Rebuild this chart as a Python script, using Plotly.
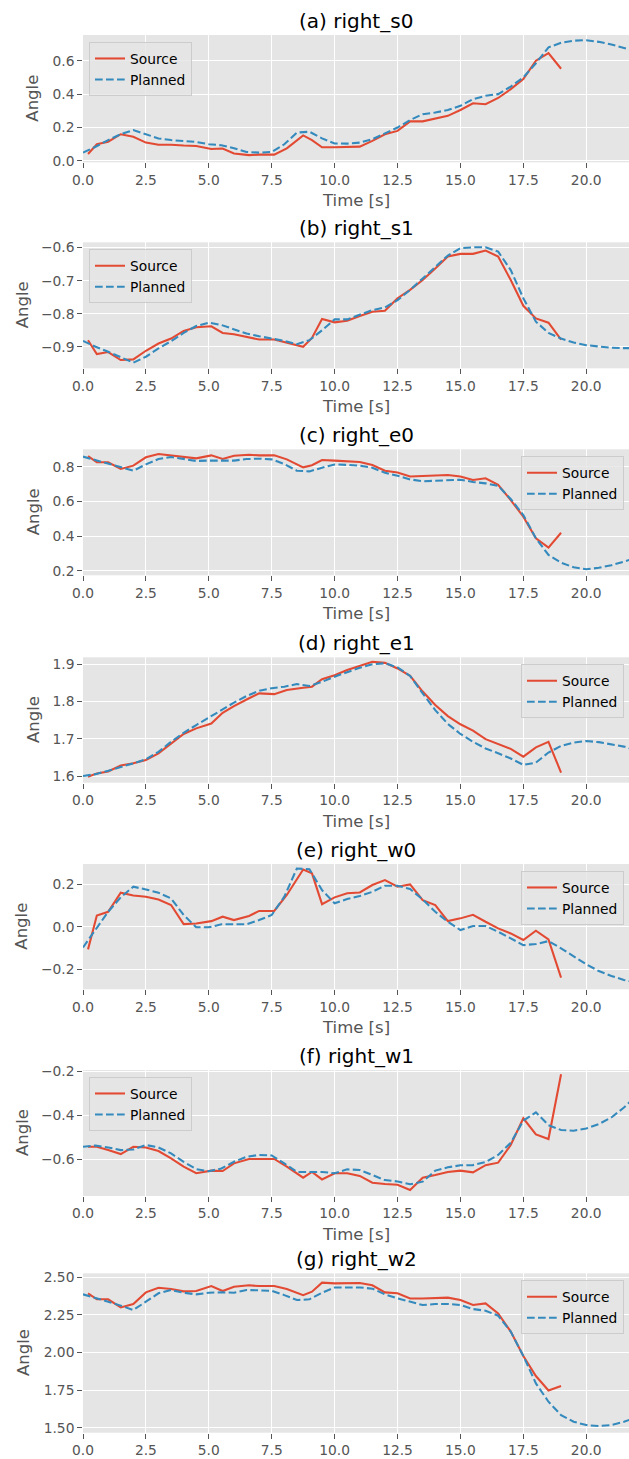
import plotly.graph_objects as go

W, H = 629, 1459

# ---------------- data ----------------
t_src = [0.2, 0.55, 1.0, 1.5, 2.0, 2.5, 3.0, 3.5, 4.0, 4.5, 5.1, 5.55, 6.0, 6.6, 7.0, 7.6,
         8.1, 8.75, 9.1, 9.5, 10.0, 10.5, 11.0, 11.5, 12.0, 12.5, 13.0, 13.5, 14.0, 14.5,
         15.0, 15.5, 16.0, 16.5, 17.0, 17.5, 18.0, 18.5, 19.0]
t_plan = [0.0, 0.5, 1.0, 1.5, 2.0, 2.5, 3.0, 3.5, 4.0, 4.5, 5.0, 5.5, 6.0, 6.5, 7.0, 7.5,
          8.0, 8.5, 9.0, 9.5, 10.0, 10.5, 11.0, 11.5, 12.0, 12.5, 13.0, 13.5, 14.0, 14.5,
          15.0, 15.5, 16.0, 16.5, 17.0, 17.5, 18.0, 18.5, 19.0, 19.5, 20.0, 20.5, 21.0,
          21.5, 22.0]

src_s0 = [0.042, 0.10, 0.115, 0.16, 0.145, 0.11, 0.097, 0.097, 0.092, 0.09, 0.072, 0.075,
          0.045, 0.035, 0.038, 0.038, 0.075, 0.153, 0.125, 0.082, 0.082, 0.082, 0.086, 0.12,
          0.16, 0.18, 0.237, 0.237, 0.255, 0.27, 0.305, 0.345, 0.34, 0.377, 0.43, 0.49, 0.60,
          0.645, 0.552]
plan_s0 = [0.05, 0.085, 0.125, 0.16, 0.185, 0.16, 0.135, 0.125, 0.12, 0.114, 0.10, 0.094,
           0.076, 0.054, 0.05, 0.054, 0.10, 0.17, 0.175, 0.135, 0.105, 0.104, 0.11, 0.13,
           0.165, 0.20, 0.245, 0.28, 0.29, 0.305, 0.33, 0.37, 0.39, 0.40, 0.445, 0.50, 0.585,
           0.68, 0.707, 0.72, 0.723, 0.713, 0.697, 0.675, 0.655]

src_s1 = [-0.88, -0.922, -0.916, -0.94, -0.938, -0.912, -0.89, -0.875, -0.852, -0.841,
          -0.838, -0.858, -0.862, -0.873, -0.878, -0.878, -0.888, -0.90, -0.873, -0.816,
          -0.826, -0.821, -0.807, -0.794, -0.791, -0.753, -0.728, -0.698, -0.663, -0.627,
          -0.619, -0.619, -0.609, -0.627, -0.698, -0.776, -0.814, -0.827, -0.878]
plan_s1 = [-0.882, -0.90, -0.915, -0.932, -0.948, -0.93, -0.905, -0.883, -0.858, -0.837,
           -0.827, -0.834, -0.847, -0.86, -0.868, -0.875, -0.882, -0.892, -0.88, -0.85,
           -0.817, -0.817, -0.804, -0.789, -0.781, -0.759, -0.728, -0.693, -0.658, -0.624,
           -0.602, -0.599, -0.599, -0.612, -0.668, -0.753, -0.824, -0.858, -0.875, -0.887,
           -0.895, -0.90, -0.903, -0.904, -0.904]

src_e0 = [0.861, 0.825, 0.825, 0.787, 0.806, 0.854, 0.873, 0.865, 0.854, 0.848, 0.865,
          0.844, 0.863, 0.869, 0.865, 0.865, 0.842, 0.796, 0.808, 0.838, 0.835, 0.831,
          0.827, 0.81, 0.777, 0.767, 0.744, 0.746, 0.75, 0.752, 0.744, 0.723, 0.733, 0.695,
          0.608, 0.512, 0.388, 0.334, 0.42]
plan_e0 = [0.858, 0.838, 0.819, 0.796, 0.777, 0.813, 0.844, 0.856, 0.846, 0.833, 0.835,
           0.836, 0.835, 0.844, 0.846, 0.842, 0.815, 0.777, 0.773, 0.794, 0.813, 0.81,
           0.806, 0.794, 0.765, 0.748, 0.727, 0.716, 0.72, 0.725, 0.725, 0.712, 0.704,
           0.69, 0.614, 0.522, 0.388, 0.292, 0.248, 0.221, 0.21, 0.218, 0.233, 0.254, 0.277]

src_e1 = [1.598, 1.607, 1.612, 1.628, 1.634, 1.643, 1.661, 1.688, 1.713, 1.728, 1.741,
          1.77, 1.788, 1.809, 1.822, 1.82, 1.831, 1.837, 1.84, 1.86, 1.871, 1.885, 1.896,
          1.907, 1.904, 1.889, 1.869, 1.827, 1.791, 1.761, 1.739, 1.722, 1.699, 1.685,
          1.673, 1.652, 1.677, 1.692, 1.609]
plan_e1 = [1.60, 1.605, 1.614, 1.623, 1.634, 1.645, 1.665, 1.692, 1.716, 1.737, 1.758,
           1.777, 1.797, 1.815, 1.829, 1.836, 1.84, 1.847, 1.842, 1.853, 1.867, 1.88, 1.891,
           1.90, 1.903, 1.892, 1.869, 1.822, 1.777, 1.74, 1.713, 1.692, 1.674, 1.661, 1.647,
           1.63, 1.636, 1.663, 1.681, 1.69, 1.694, 1.691, 1.686, 1.679, 1.668]

src_w0 = [-0.106, 0.053, 0.071, 0.161, 0.148, 0.142, 0.129, 0.103, 0.013, 0.016, 0.027,
          0.048, 0.032, 0.051, 0.075, 0.075, 0.15, 0.27, 0.252, 0.107, 0.139, 0.158, 0.162,
          0.197, 0.22, 0.189, 0.20, 0.126, 0.103, 0.027, 0.04, 0.057, 0.024, -0.007, -0.031,
          -0.062, -0.018, -0.059, -0.239]
plan_w0 = [-0.097, -0.015, 0.071, 0.139, 0.189, 0.176, 0.161, 0.134, 0.056, -0.002, -0.002,
           0.012, 0.012, 0.012, 0.032, 0.056, 0.142, 0.275, 0.271, 0.173, 0.111, 0.131,
           0.145, 0.165, 0.194, 0.194, 0.178, 0.129, 0.071, 0.024, -0.015, 0.004, 0.004,
           -0.023, -0.054, -0.086, -0.081, -0.067, -0.101, -0.14, -0.176, -0.208, -0.231,
           -0.25, -0.263]

src_w1 = [-0.543, -0.543, -0.558, -0.576, -0.543, -0.546, -0.562, -0.595, -0.633, -0.663,
          -0.651, -0.653, -0.618, -0.598, -0.598, -0.598, -0.633, -0.683, -0.657, -0.691,
          -0.663, -0.663, -0.675, -0.706, -0.712, -0.715, -0.739, -0.683, -0.671, -0.657,
          -0.651, -0.659, -0.626, -0.615, -0.535, -0.414, -0.487, -0.508, -0.214]
plan_w1 = [-0.543, -0.537, -0.546, -0.558, -0.555, -0.535, -0.546, -0.573, -0.611, -0.644,
           -0.654, -0.641, -0.611, -0.588, -0.58, -0.582, -0.618, -0.657, -0.657, -0.657,
           -0.663, -0.645, -0.648, -0.671, -0.694, -0.70, -0.713, -0.701, -0.651, -0.636,
           -0.627, -0.626, -0.612, -0.58, -0.525, -0.425, -0.387, -0.445, -0.467, -0.47,
           -0.46, -0.44, -0.41, -0.365, -0.31]

src_w2 = [2.394, 2.354, 2.354, 2.30, 2.323, 2.40, 2.431, 2.422, 2.407, 2.409, 2.442, 2.409,
          2.438, 2.447, 2.442, 2.442, 2.422, 2.382, 2.405, 2.465, 2.46, 2.46, 2.462, 2.447,
          2.40, 2.394, 2.36, 2.36, 2.365, 2.365, 2.349, 2.316, 2.327, 2.26, 2.139, 1.977,
          1.844, 1.748, 1.777]
plan_w2 = [2.387, 2.36, 2.338, 2.312, 2.283, 2.338, 2.394, 2.416, 2.398, 2.387, 2.398, 2.40,
           2.398, 2.416, 2.416, 2.411, 2.382, 2.349, 2.354, 2.398, 2.433, 2.433, 2.433,
           2.425, 2.387, 2.36, 2.338, 2.316, 2.323, 2.323, 2.316, 2.289, 2.278, 2.245,
           2.139, 1.977, 1.795, 1.673, 1.584, 1.54, 1.518, 1.511, 1.518, 1.54, 1.569]

titles = ["(a) right_s0", "(b) right_s1", "(c) right_e0", "(d) right_e1",
          "(e) right_w0", "(f) right_w1", "(g) right_w2"]
series_src = [src_s0, src_s1, src_e0, src_e1, src_w0, src_w1, src_w2]
series_plan = [plan_s0, plan_s1, plan_e0, plan_e1, plan_w0, plan_w1, plan_w2]

# ---------------- layout parameters ----------------
panel_px = [(35, 162.3), (242.3, 368.3), (449.3, 575.3), (657.3, 782.7),
            (864, 989.3), (1070, 1196), (1273.3, 1432.7)]
y_ranges = [[-0.008, 0.754], [-0.965, -0.584], [0.175, 0.90], [1.582, 1.919],
            [-0.294, 0.296], [-0.766, -0.195], [1.467, 2.527]]
y_dticks = [0.2, 0.1, 0.2, 0.1, 0.2, 0.2, 0.25]
y_fmts = [".1f", ".1f", ".1f", ".1f", ".1f", ".1f", ".2f"]
legend_left = [True, True, False, False, False, True, False]
angle_x = [33, 22, 33, 33, 22, 22, 23]
show_xlabel = [True, True, True, True, True, True, False]

X_LEFT = 83
X_MAX = 21.7
FONT = "DejaVu Sans"
BASE = 13.8
RED = "#E24A33"
BLUE = "#348ABD"
GRAY = "#555555"

fig = go.Figure()
layout = dict(
    width=W, height=H, margin=dict(l=0, r=0, t=0, b=0, autoexpand=False),
    paper_bgcolor="white", plot_bgcolor="#E5E5E5",
    font=dict(family=FONT, size=BASE, color=GRAY),
    showlegend=True,
)
annotations = []

def py(px):
    return 1 - px / H

for i in range(7):
    n = i + 1
    sfx = "" if n == 1 else str(n)
    top, bot = panel_px[i]
    leg = "legend" + sfx
    fig.add_trace(go.Scatter(x=t_src, y=series_src[i], mode="lines", name="Source",
                             line=dict(color=RED, width=2.07),
                             xaxis="x" + sfx, yaxis="y" + sfx, legend=leg))
    fig.add_trace(go.Scatter(x=t_plan, y=series_plan[i], mode="lines", name="Planned",
                             line=dict(color=BLUE, width=2.07, dash="7.7px,3.3px"),
                             xaxis="x" + sfx, yaxis="y" + sfx, legend=leg))
    layout["xaxis" + sfx] = dict(
        domain=[X_LEFT / W, 1], anchor="y" + sfx, range=[0, X_MAX], automargin=False,
        tick0=0, dtick=2.5, tickformat=".1f", showgrid=True, gridcolor="white",
        gridwidth=1.1, zeroline=False, showline=False, ticks="outside", ticklen=4.8,
        tickwidth=1.1, tickcolor=GRAY, tickfont=dict(family=FONT, size=BASE, color=GRAY),
    )
    layout["yaxis" + sfx] = dict(
        domain=[py(bot), py(top)], anchor="x" + sfx, range=y_ranges[i], automargin=False,
        tick0=0, dtick=y_dticks[i], tickformat=y_fmts[i], showgrid=True,
        gridcolor="white", gridwidth=1.1, zeroline=False, showline=False,
        ticks="outside", ticklen=4.8, tickwidth=1.1, tickcolor=GRAY,
        tickfont=dict(family=FONT, size=BASE, color=GRAY),
    )
    if legend_left[i]:
        lx = (X_LEFT + 6) / W
    else:
        lx = 521 / W
    layout[leg] = dict(
        x=lx, y=py(top + 7), xanchor="left", yanchor="top", xref="paper", yref="paper",
        bgcolor="rgba(229,229,229,0.8)", bordercolor="#CCCCCC", borderwidth=1,
        font=dict(family=FONT, size=BASE, color="black"), tracegroupgap=0,
        itemwidth=30,
    )
    annotations.append(dict(text=titles[i], x=(X_LEFT + W) / 2 / W, y=py(top - 14),
                            xref="paper", yref="paper", showarrow=False,
                            xanchor="center", yanchor="middle",
                            font=dict(family=FONT, size=20, color="black")))
    annotations.append(dict(text="Angle", x=angle_x[i] / W, y=py((top + bot) / 2),
                            xref="paper", yref="paper", showarrow=False, textangle=-90,
                            xanchor="center", yanchor="middle",
                            font=dict(family=FONT, size=16.5, color=GRAY)))
    if show_xlabel[i]:
        annotations.append(dict(text="Time [s]", x=(X_LEFT + W) / 2 / W,
                                y=py(bot + 38.5), xref="paper", yref="paper",
                                showarrow=False, xanchor="center", yanchor="middle",
                                font=dict(family=FONT, size=16.5, color=GRAY)))

layout["annotations"] = annotations
fig.update_layout(**layout)
fig.write_html("out.html")
